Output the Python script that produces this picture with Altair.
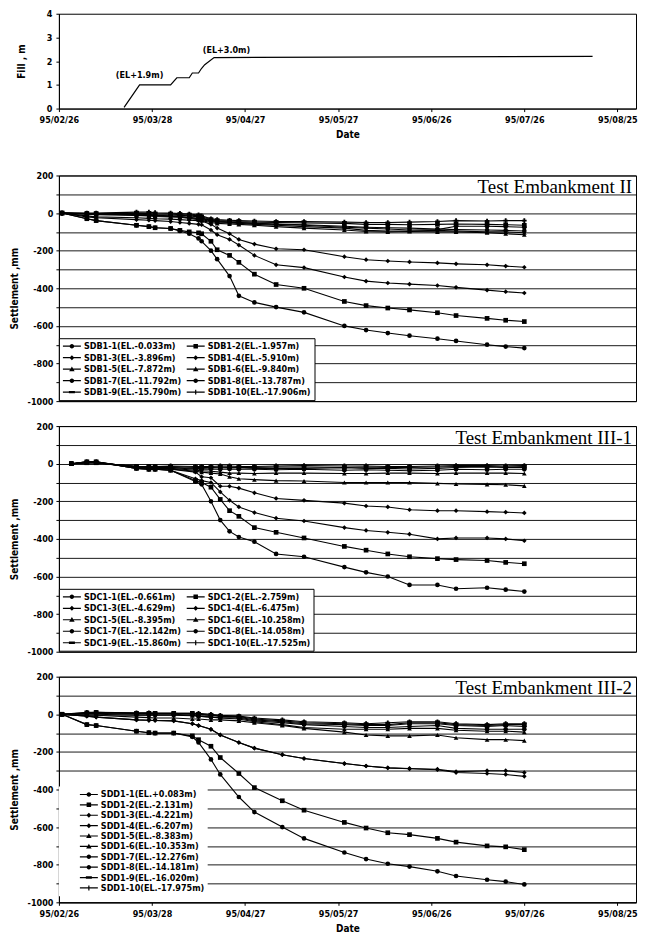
import altair as alt
import pandas as pd

# ---------------- data ----------------
TICK_DATES = ["1995-02-26", "1995-03-28", "1995-04-27", "1995-05-27",
              "1995-06-26", "1995-07-26", "1995-08-25"]
X_DOMAIN = ["1995-02-26", "1995-08-31"]

FILL_DATES = ["1995-03-19", "1995-03-24", "1995-04-03", "1995-04-05", "1995-04-09",
              "1995-04-10", "1995-04-12", "1995-04-13", "1995-04-14", "1995-04-17",
              "1995-08-17"]
FILL_VALUES = [0.05, 1.0, 1.0, 1.3, 1.3, 1.5, 1.5, 1.7, 1.85, 2.15, 2.2]
FILL_NOTES = ["(EL+1.9m)", "(EL+3.0m)"]
FILL_NOTE_DATES = ["1995-03-24", "1995-04-21"]
FILL_NOTE_VALUES = [1.4, 2.45]

# ---- Test Embankment II ----
II_TITLE = "Test Embankment II"
II_DATES = ["1995-02-27", "1995-03-07", "1995-03-10", "1995-03-23", "1995-03-27",
            "1995-03-29", "1995-04-03", "1995-04-06", "1995-04-09", "1995-04-12",
            "1995-04-13", "1995-04-16", "1995-04-18", "1995-04-22", "1995-04-25",
            "1995-04-30", "1995-05-07", "1995-05-16", "1995-05-29", "1995-06-05",
            "1995-06-12", "1995-06-19", "1995-06-28", "1995-07-04", "1995-07-14",
            "1995-07-20", "1995-07-26"]
II_NAMES = ["SDB1-1(EL.-0.033m)", "SDB1-2(EL.-1.957m)", "SDB1-3(EL.-3.896m)",
            "SDB1-4(EL.-5.910m)", "SDB1-5(EL.-7.872m)", "SDB1-6(EL.-9.840m)",
            "SDB1-7(EL.-11.792m)", "SDB1-8(EL.-13.787m)", "SDB1-9(EL.-15.790m)",
            "SDB1-10(EL.-17.906m)"]
SDB1_1 = [0, -30, -40, -65, -72, -78, -82, -95, -110, -135, -150, -200, -245, -335, -440,
          -475, -500, -528, -600, -622, -638, -652, -668, -680, -700, -710, -718]
SDB1_2 = [0, -30, -40, -65, -72, -78, -82, -92, -100, -105, -110, -150, -195, -225, -262,
          -325, -380, -400, -470, -492, -505, -515, -530, -545, -560, -570, -577]
SDB1_3 = [0, -20, -25, -35, -38, -40, -45, -50, -55, -60, -62, -90, -115, -140, -170,
          -225, -275, -290, -340, -362, -372, -378, -385, -395, -410, -418, -425]
SDB1_4 = [0, -15, -20, -25, -28, -30, -32, -35, -38, -40, -42, -60, -80, -110, -140,
          -165, -190, -195, -232, -248, -255, -260, -265, -270, -275, -282, -288]
SDB1_5 = [0, -5, -8, -12, -15, -18, -20, -22, -28, -35, -40, -50, -55, -58, -60,
          -65, -72, -80, -90, -98, -100, -98, -100, -100, -105, -110, -115]
SDB1_6 = [0, -3, -5, -10, -12, -15, -18, -20, -25, -30, -35, -45, -50, -52, -55,
          -60, -65, -72, -80, -92, -95, -95, -92, -95, -100, -100, -105]
SDB1_7 = [0, -2, -4, -8, -10, -12, -15, -18, -22, -28, -30, -40, -45, -48, -50,
          -55, -60, -65, -75, -80, -85, -90, -88, -70, -70, -72, -75]
SDB1_8 = [0, -5, -5, -5, -8, -10, -10, -12, -15, -20, -25, -40, -45, -48, -50,
          -55, -58, -62, -70, -75, -78, -80, -85, -88, -90, -92, -95]
SDB1_9 = [0, -2, -2, 0, -2, -5, -5, -8, -10, -15, -20, -35, -40, -42, -45,
          -48, -50, -52, -55, -60, -60, -62, -60, -58, -60, -62, -65]
SDB1_10 = [0, 0, 0, 5, 5, 2, 0, -2, -5, -10, -15, -30, -35, -38, -40,
           -42, -45, -45, -48, -50, -50, -48, -45, -40, -42, -40, -40]
II_VALUES = [SDB1_1, SDB1_2, SDB1_3, SDB1_4, SDB1_5, SDB1_6, SDB1_7, SDB1_8, SDB1_9, SDB1_10]

# ---- Test Embankment III-1 ----
III1_TITLE = "Test Embankment III-1"
III1_DATES = ["1995-03-02", "1995-03-07", "1995-03-10", "1995-03-23", "1995-03-27",
              "1995-03-29", "1995-04-03", "1995-04-11", "1995-04-13", "1995-04-16",
              "1995-04-19", "1995-04-22", "1995-04-25", "1995-04-30", "1995-05-07",
              "1995-05-16", "1995-05-29", "1995-06-05", "1995-06-12", "1995-06-19",
              "1995-06-28", "1995-07-04", "1995-07-14", "1995-07-20", "1995-07-26"]
III1_NAMES = ["SDC1-1(EL.-0.661m)", "SDC1-2(EL.-2.759m)", "SDC1-3(EL.-4.629m)",
              "SDC1-4(EL.-6.475m)", "SDC1-5(EL.-8.395m)", "SDC1-6(EL.-10.258m)",
              "SDC1-7(EL.-12.142m)", "SDC1-8(EL.-14.058m)", "SDC1-9(EL.-15.860m)",
              "SDC1-10(EL.-17.525m)"]
SDC1_1 = [0, 10, 10, -25, -30, -30, -35, -95, -110, -200, -300, -360, -390, -415, -480,
          -495, -550, -578, -600, -645, -645, -665, -660, -670, -680]
SDC1_2 = [0, 10, 10, -25, -30, -30, -35, -90, -100, -125, -190, -250, -280, -340, -365,
          -395, -440, -460, -480, -495, -505, -510, -515, -525, -532]
SDC1_3 = [0, 10, 10, -25, -30, -30, -35, -80, -90, -100, -150, -195, -230, -260, -290,
          -305, -340, -355, -365, -375, -400, -395, -395, -400, -410]
SDC1_4 = [0, 10, 10, -20, -25, -25, -30, -45, -70, -75, -120, -120, -130, -155, -185,
          -195, -210, -225, -230, -245, -250, -250, -255, -258, -262]
SDC1_5 = [0, 5, 5, -20, -22, -25, -28, -40, -45, -50, -55, -70, -80, -85, -90,
          -92, -100, -100, -100, -100, -105, -108, -110, -112, -118]
SDC1_6 = [0, 5, 5, -20, -22, -25, -25, -35, -38, -40, -45, -50, -50, -52, -50,
          -50, -52, -52, -50, -50, -52, -50, -50, -50, -52]
SDC1_7 = [0, 5, 5, -15, -20, -20, -20, -30, -30, -28, -30, -28, -30, -30, -32,
          -30, -35, -32, -35, -38, -35, -30, -32, -30, -30]
SDC1_8 = [0, 5, 5, -15, -15, -18, -20, -25, -25, -22, -22, -20, -22, -25, -25,
          -25, -22, -25, -25, -28, -25, -20, -18, -20, -20]
SDC1_9 = [0, 5, 5, -15, -15, -15, -15, -20, -20, -20, -18, -18, -20, -20, -18,
          -18, -20, -18, -20, -20, -18, -15, -15, -18, -15]
SDC1_10 = [0, 5, 5, -15, -15, -15, -12, -15, -15, -15, -12, -12, -15, -15, -12,
           -10, -12, -12, -15, -15, -12, -10, -10, -12, -10]
III1_VALUES = [SDC1_1, SDC1_2, SDC1_3, SDC1_4, SDC1_5, SDC1_6, SDC1_7, SDC1_8, SDC1_9, SDC1_10]

# ---- Test Embankment III-2 ----
III2_TITLE = "Test Embankment III-2"
III2_DATES = ["1995-02-27", "1995-03-07", "1995-03-10", "1995-03-23", "1995-03-27",
              "1995-03-29", "1995-04-04", "1995-04-10", "1995-04-12", "1995-04-16",
              "1995-04-19", "1995-04-25", "1995-04-30", "1995-05-09", "1995-05-16",
              "1995-05-29", "1995-06-05", "1995-06-12", "1995-06-19", "1995-06-28",
              "1995-07-04", "1995-07-14", "1995-07-20", "1995-07-26"]
III2_NAMES = ["SDD1-1(EL.+0.083m)", "SDD1-2(EL.-2.131m)", "SDD1-3(EL.-4.221m)",
              "SDD1-4(EL.-6.207m)", "SDD1-5(EL.-8.383m)", "SDD1-6(EL.-10.353m)",
              "SDD1-7(EL.-12.276m)", "SDD1-8(EL.-14.181m)", "SDD1-9(EL.-16.020m)",
              "SDD1-10(EL.-17.975m)"]
SDD1_1 = [0, -55, -60, -90, -98, -100, -100, -120, -150, -240, -320, -440, -520, -600,
          -660, -735, -770, -795, -810, -835, -860, -880, -890, -905]
SDD1_2 = [0, -55, -60, -90, -98, -100, -100, -115, -135, -170, -230, -315, -390, -460,
          -510, -575, -605, -630, -640, -660, -680, -700, -705, -720]
SDD1_3 = [0, -10, -15, -30, -32, -33, -35, -50, -60, -80, -110, -150, -180, -215,
          -235, -262, -275, -285, -290, -295, -310, -315, -320, -330]
SDD1_4 = [0, -10, -15, -30, -32, -33, -35, -50, -60, -80, -110, -150, -180, -215,
          -235, -262, -275, -285, -288, -292, -305, -300, -300, -310]
SDD1_5 = [0, -5, -5, -15, -18, -20, -20, -25, -25, -30, -30, -35, -45, -60,
          -75, -95, -110, -115, -115, -110, -125, -135, -135, -140]
SDD1_6 = [0, 0, 0, -5, -5, -5, -5, -8, -10, -15, -20, -25, -40, -55,
          -70, -80, -80, -80, -75, -75, -85, -90, -90, -95]
SDD1_7 = [0, 5, 5, 0, 0, 0, 0, -5, -10, -15, -18, -20, -35, -45,
          -55, -65, -70, -70, -65, -60, -75, -80, -80, -80]
SDD1_8 = [0, 5, 8, 5, 5, 5, 5, 0, 0, -5, -10, -15, -30, -40,
          -50, -55, -60, -60, -50, -50, -60, -65, -60, -65]
SDD1_9 = [0, 8, 10, 5, 5, 5, 5, 5, 0, -5, -10, -12, -25, -35,
          -45, -50, -55, -55, -45, -45, -55, -60, -55, -55]
SDD1_10 = [0, 10, 10, 8, 8, 5, 5, 5, 5, 0, -5, -10, -20, -30,
           -40, -45, -50, -45, -40, -40, -50, -55, -50, -50]
III2_VALUES = [SDD1_1, SDD1_2, SDD1_3, SDD1_4, SDD1_5, SDD1_6, SDD1_7, SDD1_8, SDD1_9, SDD1_10]

# ---------------- style ----------------
LF = "Liberation Sans Narrow, DejaVu Sans Condensed, Arial Narrow, sans-serif"
SERIF = "Liberation Serif, Times New Roman, serif"
W = 578
H_FILL = 95
H_SET = 226

PLOT_SHAPES = ["circle", "square", "diamond", "diamond", "triangle-up",
               "triangle-up", "circle", "circle", "square", "cross"]
# legend symbols: a filled thin bar (the line) plus a marker, all clockwise
BAR = "M-1.8,-0.12H1.8V0.12H-1.8Z"
CIRC = "M-0.45,0A0.45,0.45,0,1,1,0.45,0A0.45,0.45,0,1,1,-0.45,0Z"
SQR = "M-0.45,-0.45H0.45V0.45H-0.45Z"
DIA = "M0,-0.5L0.5,0L0,0.5L-0.5,0Z"
TRI = "M0,-0.55L0.55,0.4H-0.55Z"
DASH = "M-0.6,-0.24H0.6V0.24H-0.6Z"
VBAR = "M-0.12,-0.5H0.12V0.5H-0.12Z"
LEG_PATHS = [BAR + CIRC, BAR + SQR, BAR + DIA, BAR + DIA, BAR + TRI,
             BAR + TRI, BAR + CIRC, BAR + CIRC, BAR + DASH, BAR + VBAR]


def dt(s):
    y, m, d = (int(p) for p in s.split("-"))
    return alt.DateTime(year=y, month=m, date=d, utc=True)


X_SCALE = alt.Scale(type="utc", domain=[dt(X_DOMAIN[0]), dt(X_DOMAIN[1])], nice=False)


def x_enc(show):
    if show:
        axis = alt.Axis(values=[dt(d) for d in TICK_DATES],
                        labelExpr="utcFormat(datum.value, '%y/%m/%d')",
                        title="Date", grid=False, labelOverlap=False, labelFlush=False,
                        labelPadding=4, titlePadding=5, titleFontSize=10)
    else:
        axis = None
    return alt.X("date:T", scale=X_SCALE, axis=axis)


def y_settle():
    return alt.Y("value:Q", scale=alt.Scale(domain=[-1000, 200], nice=False, zero=False),
                 axis=alt.Axis(values=list(range(-1000, 201, 100)),
                               labelExpr="datum.value % 200 == 0 ? '' + datum.value : ''",
                               labelOverlap=False, grid=True, gridColor="black",
                               gridWidth=0.9, gridOpacity=1, labelPadding=3,
                               title="Settlement ,mm", titlePadding=8, titleFontSize=10))


def make_df(dates, names, values):
    rows = []
    for name, vals in zip(names, values):
        for d, v in zip(dates, vals):
            rows.append({"date": d, "value": v, "series": name})
    return pd.DataFrame(rows)


def settle_panel(dates, names, values, title, show_x, columns, lx, ly, stroke, sym_off):
    df = make_df(dates, names, values)
    x = x_enc(show_x)
    y = y_settle()
    lines = alt.Chart(df).mark_line(color="black", strokeWidth=1.1).encode(
        x=x, y=y, detail="series:N")
    pts = alt.Chart(df).mark_point(filled=True, color="black", size=22, opacity=1).encode(
        x=x, y=y,
        shape=alt.Shape("series:N", scale=alt.Scale(domain=names, range=PLOT_SHAPES),
                        legend=None))
    leg_kw = dict(orient="none", legendX=lx, legendY=ly, columns=columns, title=None,
                  direction="horizontal" if columns == 2 else "vertical",
                  fillColor="white", padding=3, labelFont=LF, labelFontSize=9,
                  labelFontWeight="bold", labelColor="black", symbolSize=100,
                  symbolOffset=sym_off, labelOffset=7,
                  symbolFillColor="black", symbolStrokeWidth=0,
                  rowPadding=1.5 if columns == 2 else 0.4, columnPadding=4,
                  labelLimit=240, symbolOpacity=1)
    if stroke:
        leg_kw["strokeColor"] = "black"
    leg = alt.Chart(df).transform_filter("false").mark_point(
        filled=True, color="black", size=100).encode(
        x=x, y=y,
        shape=alt.Shape("series:N", scale=alt.Scale(domain=names, range=LEG_PATHS),
                        legend=alt.Legend(**leg_kw)))
    tdf = pd.DataFrame({"date": [X_DOMAIN[1]], "value": [100], "label": [title]})
    txt = alt.Chart(tdf).mark_text(align="right", baseline="alphabetic", dx=-4, dy=-1,
                                   font=SERIF, fontSize=19, color="black").encode(
        x=x, y=y, text="label:N")
    return alt.layer(lines, pts, leg, txt).resolve_scale(shape="independent").properties(
        width=W, height=H_SET)


# ---- fill panel ----
fill_df = pd.DataFrame({"date": FILL_DATES, "fill": FILL_VALUES})
note_df = pd.DataFrame({"date": FILL_NOTE_DATES, "fill": FILL_NOTE_VALUES, "note": FILL_NOTES})
fy = alt.Y("fill:Q", scale=alt.Scale(domain=[0, 4], nice=False),
           axis=alt.Axis(values=[0, 1, 2, 3, 4], grid=False, title="Fill , m",
                         titlePadding=20, titleFontSize=10, labelPadding=4))
fill_line = alt.Chart(fill_df).mark_line(color="black", strokeWidth=1.2).encode(
    x=x_enc(True), y=fy)
fill_txt = alt.Chart(note_df).mark_text(font=LF, fontSize=9, fontWeight="bold",
                                        color="black").encode(
    x=x_enc(True), y=fy, text="note:N")
fill_panel = alt.layer(fill_line, fill_txt).properties(width=W, height=H_FILL)

p2 = settle_panel(II_DATES, II_NAMES, II_VALUES, II_TITLE, False, 2, 0, 163, True, 5)
p3 = settle_panel(III1_DATES, III1_NAMES, III1_VALUES, III1_TITLE, False, 2, 0, 163, True, 5)
p4 = settle_panel(III2_DATES, III2_NAMES, III2_VALUES, III2_TITLE, True, 1, 0, 110, False, 22)

inner = alt.vconcat(p2, p3, p4, spacing=25, bounds="flush").resolve_scale(
    shape="independent", x="independent", y="independent")
chart = alt.vconcat(fill_panel, inner, spacing=67, bounds="flush").resolve_scale(
    shape="independent", x="independent", y="independent").properties(
    padding={"left": 0, "top": 0, "right": 0, "bottom": 0}).configure(
    background="white").configure_view(stroke="black", strokeWidth=1).configure_axis(
    labelFont=LF, labelFontSize=9, labelFontWeight="bold", labelColor="black",
    titleFont=LF, titleFontWeight="bold", titleColor="black", tickColor="black",
    domainColor="black", tickSize=3, tickWidth=1, domainWidth=1)

chart.save("out.html", embed_options={"renderer": "svg", "actions": False})
